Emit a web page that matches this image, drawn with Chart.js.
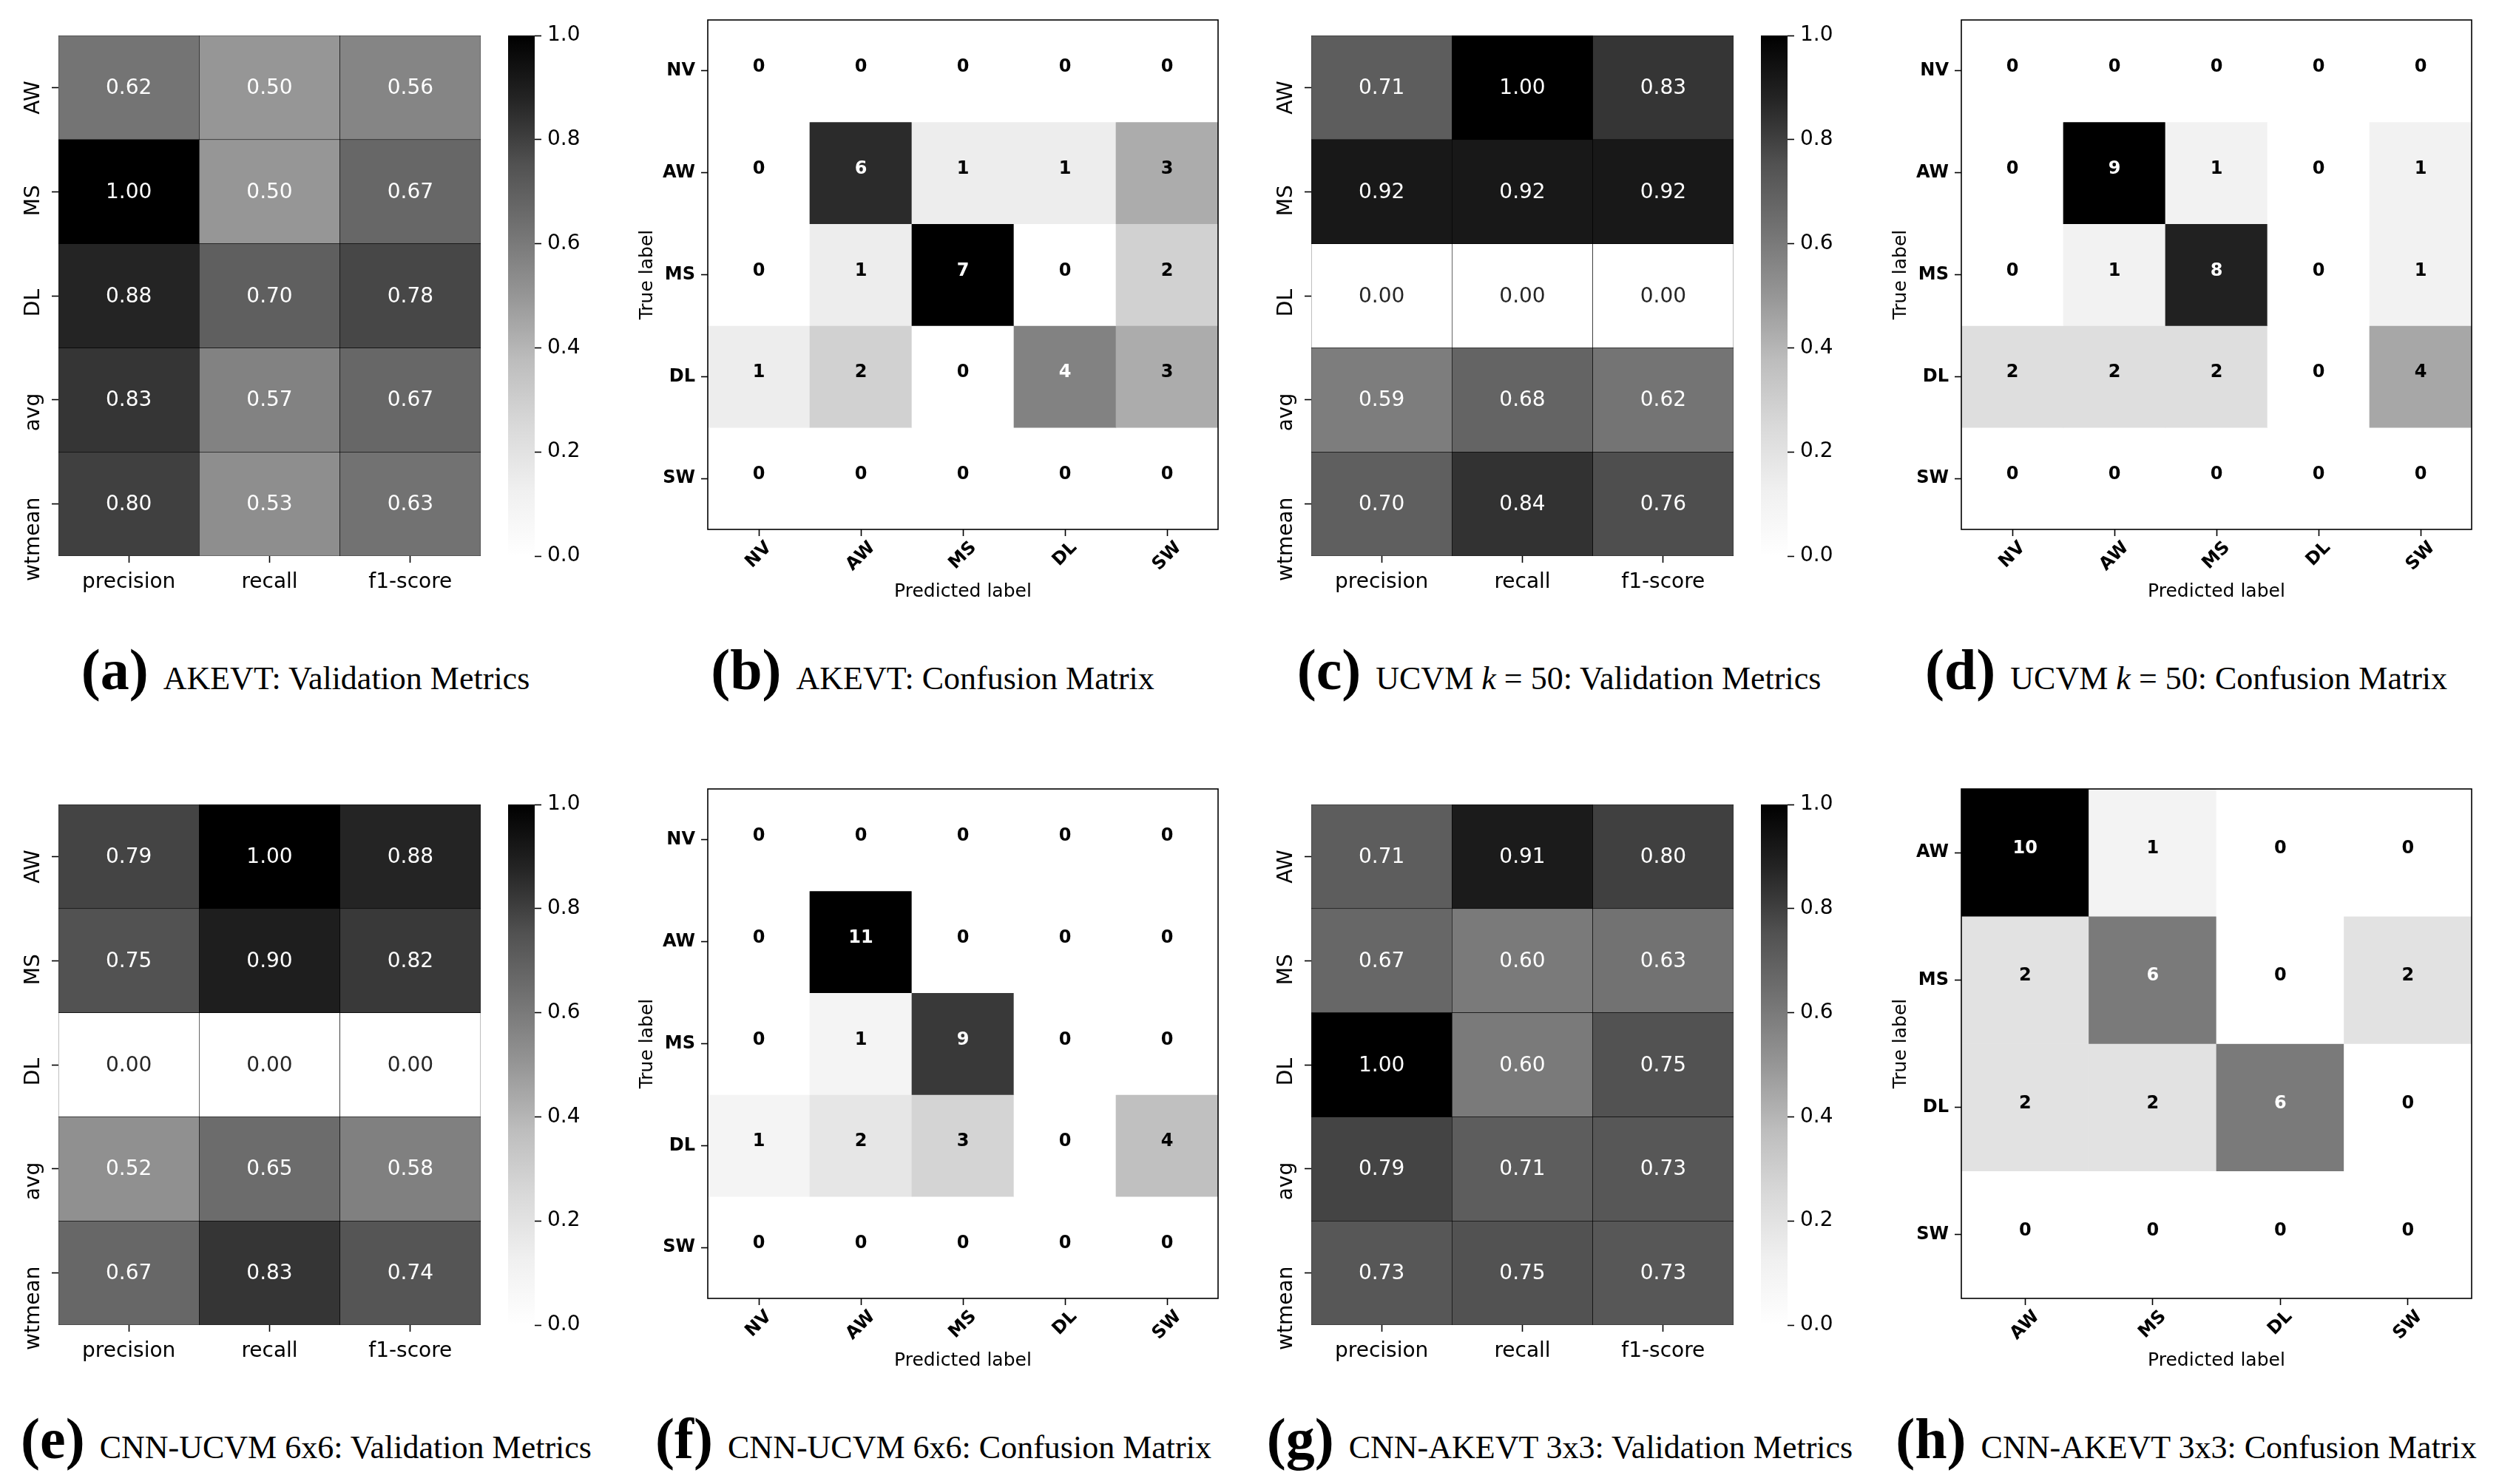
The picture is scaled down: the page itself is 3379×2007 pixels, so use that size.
<!DOCTYPE html>
<html>
<head>
<meta charset="utf-8">
<title>Validation metrics and confusion matrices</title>
<script src="https://cdn.jsdelivr.net/npm/chart.js@4.4.1/dist/chart.umd.min.js"></script>
<style>
  html, body { margin: 0; padding: 0; background: #fff; }
  #page { position: relative; width: 3379px; height: 2007px; overflow: hidden; }
  .box { position: absolute; }
  .cap {
    position: absolute;
    width: 1000px;
    display: flex;
    justify-content: center;
    align-items: baseline;
    font-family: "Liberation Serif", serif;
    color: #000;
    white-space: nowrap;
  }
  .cap b { font-size: 78px; line-height: 1; margin-right: 20px; }
  .cap span { font-size: 44px; line-height: 1; }
</style>
</head>
<body>
<div id="page">
  <div class="cap" style="left:-87px;top:867px"><b>(a)</b><span>AKEVT: Validation Metrics</span></div>
  <div class="cap" style="left:761px;top:867px"><b>(b)</b><span>AKEVT: Confusion Matrix</span></div>
  <div class="cap" style="left:1608px;top:867px"><b>(c)</b><span>UCVM <i>k</i> = 50: Validation Metrics</span></div>
  <div class="cap" style="left:2456px;top:867px"><b>(d)</b><span>UCVM <i>k</i> = 50: Confusion Matrix</span></div>
  <div class="cap" style="left:-86px;top:1907px"><b>(e)</b><span>CNN-UCVM 6x6: Validation Metrics</span></div>
  <div class="cap" style="left:762px;top:1907px"><b>(f)</b><span>CNN-UCVM 6x6: Confusion Matrix</span></div>
  <div class="cap" style="left:1609px;top:1907px"><b>(g)</b><span>CNN-AKEVT 3x3: Validation Metrics</span></div>
  <div class="cap" style="left:2456px;top:1907px"><b>(h)</b><span>CNN-AKEVT 3x3: Confusion Matrix</span></div>
</div>
<script>
// labels
const metricCols = ["precision", "recall", "f1-score"];
const metricRows = ["AW", "MS", "DL", "avg", "wtmean"];
const classLabels = ["NV", "AW", "MS", "DL", "SW"];
const cnnClassLabels = ["AW", "MS", "DL", "SW"];
const colorbarTicks = [0.0, 0.2, 0.4, 0.6, 0.8, 1.0];

// (a) / (b) AKEVT
const akevtMetrics = [
  [0.62, 0.50, 0.56],
  [1.00, 0.50, 0.67],
  [0.88, 0.70, 0.78],
  [0.83, 0.57, 0.67],
  [0.80, 0.53, 0.63],
];
const akevtConfusion = [
  [0, 0, 0, 0, 0],
  [0, 6, 1, 1, 3],
  [0, 1, 7, 0, 2],
  [1, 2, 0, 4, 3],
  [0, 0, 0, 0, 0],
];

// (c) / (d) UCVM k = 50
const ucvmMetrics = [
  [0.71, 1.00, 0.83],
  [0.92, 0.92, 0.92],
  [0.00, 0.00, 0.00],
  [0.59, 0.68, 0.62],
  [0.70, 0.84, 0.76],
];
const ucvmConfusion = [
  [0, 0, 0, 0, 0],
  [0, 9, 1, 0, 1],
  [0, 1, 8, 0, 1],
  [2, 2, 2, 0, 4],
  [0, 0, 0, 0, 0],
];

// (e) / (f) CNN-UCVM 6x6
const cnnUcvmMetrics = [
  [0.79, 1.00, 0.88],
  [0.75, 0.90, 0.82],
  [0.00, 0.00, 0.00],
  [0.52, 0.65, 0.58],
  [0.67, 0.83, 0.74],
];
const cnnUcvmConfusion = [
  [0, 0, 0, 0, 0],
  [0, 11, 0, 0, 0],
  [0, 1, 9, 0, 0],
  [1, 2, 3, 0, 4],
  [0, 0, 0, 0, 0],
];

// (g) / (h) CNN-AKEVT 3x3
const cnnAkevtMetrics = [
  [0.71, 0.91, 0.80],
  [0.67, 0.60, 0.63],
  [1.00, 0.60, 0.75],
  [0.79, 0.71, 0.73],
  [0.73, 0.75, 0.73],
];
const cnnAkevtConfusion = [
  [10, 1, 0, 0],
  [2, 6, 0, 2],
  [2, 2, 6, 0],
  [0, 0, 0, 0],
];

// matplotlib "Greys" colour stops
const greysStops = [255, 240, 217, 189, 150, 115, 82, 37, 0];

Chart.defaults.font.family = "'DejaVu Sans', sans-serif";
Chart.defaults.color = "#000";
Chart.defaults.animation = false;
Chart.defaults.events = [];
Chart.defaults.plugins.legend.display = false;
Chart.defaults.plugins.tooltip.enabled = false;

const page = document.getElementById("page");

function greyLevel(t) {
  t = Math.max(0, Math.min(1, t));
  const p = t * (greysStops.length - 1);
  const i = Math.min(greysStops.length - 2, Math.floor(p));
  const f = p - i;
  return Math.round(greysStops[i] + (greysStops[i + 1] - greysStops[i]) * f);
}

function greyCss(t) {
  const v = greyLevel(t);
  return `rgb(${v},${v},${v})`;
}

// seaborn picks dark or white annotation text from the cell luminance
function seabornText(v) {
  const c = greyLevel(v) / 255;
  const lum = c <= 0.03928 ? c / 12.92 : Math.pow((c + 0.055) / 1.055, 2.4);
  return lum > 0.408 ? "#262626" : "#fff";
}

function addBox(left, top, width, height) {
  const div = document.createElement("div");
  div.className = "box";
  div.style.left = left + "px";
  div.style.top = top + "px";
  div.style.width = width + "px";
  div.style.height = height + "px";
  const canvas = document.createElement("canvas");
  div.appendChild(canvas);
  page.appendChild(div);
  return canvas;
}

function cellDatasets(matrix, vmax, border) {
  return matrix.map((row, r) => ({
    data: row.map(() => [r, r + 1]),
    values: row,
    backgroundColor: row.map((v) => greyCss(v / vmax)),
    borderColor: "#000",
    borderWidth: border,
    borderSkipped: false,
    grouped: false,
    barPercentage: 1,
    categoryPercentage: 1,
  }));
}

function cellText(font, colorFor, format, dy) {
  return {
    id: "cellText",
    afterDatasetsDraw(chart) {
      const ctx = chart.ctx;
      ctx.save();
      ctx.font = font;
      ctx.textAlign = "center";
      ctx.textBaseline = "alphabetic";
      chart.data.datasets.forEach((ds, r) => {
        chart.getDatasetMeta(r).data.forEach((bar, c) => {
          const { x, y, base } = bar.getProps(["x", "y", "base"], true);
          ctx.fillStyle = colorFor(ds.values[c]);
          ctx.fillText(format(ds.values[c]), x, (y + base) / 2 + dy);
        });
      });
      ctx.restore();
    },
  };
}

// y labels turned 90 degrees, as seaborn draws them
function verticalRowLabels(labels) {
  return {
    id: "verticalRowLabels",
    afterDraw(chart) {
      const ctx = chart.ctx;
      const s = chart.scales.y;
      ctx.save();
      ctx.font = "28px 'DejaVu Sans'";
      ctx.fillStyle = "#000";
      ctx.textAlign = "right";
      ctx.textBaseline = "alphabetic";
      labels.forEach((lab, i) => {
        ctx.save();
        ctx.translate(chart.chartArea.left - 26, s.getPixelForValue(i + 0.5) - 9);
        ctx.rotate(-Math.PI / 2);
        ctx.fillText(lab, 0, 0);
        ctx.restore();
      });
      ctx.restore();
    },
  };
}

// x labels at 45 degrees, centred under the tick
function slantedColLabels(labels) {
  return {
    id: "slantedColLabels",
    afterDraw(chart) {
      const ctx = chart.ctx;
      const s = chart.scales.x;
      const top = chart.chartArea.bottom + 11;
      ctx.save();
      ctx.font = "bold 24px 'DejaVu Sans'";
      ctx.fillStyle = "#000";
      ctx.textAlign = "center";
      ctx.textBaseline = "middle";
      labels.forEach((lab, i) => {
        const w = ctx.measureText(lab).width;
        const off = ((w + 28) * Math.SQRT1_2) / 2;
        ctx.save();
        ctx.translate(s.getPixelForValue(i), top + off);
        ctx.rotate(-Math.PI / 4);
        ctx.fillText(lab, 0, 0);
        ctx.restore();
      });
      ctx.restore();
    },
  };
}

const frame = {
  id: "frame",
  afterDatasetsDraw(chart) {
    const { left, top, width, height } = chart.chartArea;
    const ctx = chart.ctx;
    ctx.save();
    ctx.strokeStyle = "#000";
    ctx.lineWidth = 1.6;
    ctx.strokeRect(left, top, width, height);
    ctx.restore();
  },
};

const tickGrid = {
  offset: false,
  drawOnChartArea: false,
  drawTicks: true,
  tickLength: 9,
  tickWidth: 1.6,
  tickColor: "#000",
};

function gradientFill(context) {
  const { ctx, chartArea } = context.chart;
  if (!chartArea) return null;
  const g = ctx.createLinearGradient(0, chartArea.bottom, 0, chartArea.top);
  greysStops.forEach((v, i) =>
    g.addColorStop(i / (greysStops.length - 1), `rgb(${v},${v},${v})`),
  );
  return g;
}

function colorbar(left, top) {
  const canvas = addBox(left, top - 48, 36 + 90, 48 + 704 + 30);
  new Chart(canvas, {
    type: "bar",
    data: {
      labels: [""],
      datasets: [
        {
          data: [1],
          backgroundColor: gradientFill,
          borderWidth: 0,
          barPercentage: 1,
          categoryPercentage: 1,
        },
      ],
    },
    options: {
      responsive: true,
      maintainAspectRatio: false,
      layout: { padding: { top: 48, bottom: 30, left: 0, right: 0 } },
      scales: {
        x: { display: false },
        y: {
          position: "right",
          min: 0,
          max: 1,
          afterBuildTicks: (s) => {
            s.ticks = colorbarTicks.map((v) => ({ value: v }));
          },
          ticks: { font: { size: 28 }, padding: 8, callback: (v) => v.toFixed(1) },
          grid: tickGrid,
          border: { display: false },
          afterFit: (s) => {
            s.width = 90;
          },
        },
      },
    },
  });
}

function metricChart(values, left, top) {
  const canvas = addBox(left - 79, top - 48, 79 + 571 + 10, 48 + 704 + 80);
  new Chart(canvas, {
    type: "bar",
    data: { labels: metricCols, datasets: cellDatasets(values, 1, 0.6) },
    options: {
      responsive: true,
      maintainAspectRatio: false,
      layout: { padding: { top: 48, right: 10, left: 0, bottom: 0 } },
      scales: {
        x: {
          grid: tickGrid,
          border: { display: false },
          ticks: { font: { size: 28 }, padding: 10 },
          afterFit: (s) => {
            s.height = 80;
          },
        },
        y: {
          min: 0,
          max: metricRows.length,
          reverse: true,
          afterBuildTicks: (s) => {
            s.ticks = metricRows.map((_, i) => ({ value: i + 0.5 }));
          },
          ticks: { display: false },
          grid: tickGrid,
          border: { display: false },
          afterFit: (s) => {
            s.width = 79;
          },
        },
      },
    },
    plugins: [
      cellText("28px 'DejaVu Sans'", seabornText, (v) => v.toFixed(2), 8.5),
      verticalRowLabels(metricRows),
    ],
  });
  colorbar(left + 608, top);
}

function confusionChart(values, labels, left, top) {
  const vmax = Math.max(...values.flat());
  const canvas = addBox(left - 97, top - 27, 97 + 690 + 10, 27 + 689 + 99);
  new Chart(canvas, {
    type: "bar",
    data: { labels: labels, datasets: cellDatasets(values, vmax, 0) },
    options: {
      responsive: true,
      maintainAspectRatio: false,
      layout: { padding: { top: 27, right: 10, left: 0, bottom: 0 } },
      scales: {
        x: {
          grid: tickGrid,
          border: { display: false },
          ticks: { display: false },
          title: { display: true, text: "Predicted label", font: { size: 25 }, padding: 0 },
          afterFit: (s) => {
            s.height = 99;
          },
        },
        y: {
          min: 0,
          max: labels.length,
          reverse: true,
          afterBuildTicks: (s) => {
            s.ticks = labels.map((_, i) => ({ value: i + 0.5 }));
          },
          ticks: {
            font: { size: 24, weight: "bold" },
            padding: 8,
            callback: (v) => labels[Math.floor(v)],
          },
          grid: tickGrid,
          border: { display: false },
          title: { display: true, text: "True label", font: { size: 25 }, padding: 0 },
          afterFit: (s) => {
            s.width = 97;
          },
        },
      },
    },
    plugins: [
      cellText(
        "bold 24px 'DejaVu Sans'",
        (v) => (v > vmax / 2 ? "#fff" : "#000"),
        (v) => String(v),
        1,
      ),
      slantedColLabels(labels),
      frame,
    ],
  });
}

metricChart(akevtMetrics, 79, 48);
confusionChart(akevtConfusion, classLabels, 957, 27);
metricChart(ucvmMetrics, 1773, 48);
confusionChart(ucvmConfusion, classLabels, 2652, 27);

metricChart(cnnUcvmMetrics, 79, 1088);
confusionChart(cnnUcvmConfusion, classLabels, 957, 1067);
metricChart(cnnAkevtMetrics, 1773, 1088);
confusionChart(cnnAkevtConfusion, cnnClassLabels, 2652, 1067);
</script>
</body>
</html>
